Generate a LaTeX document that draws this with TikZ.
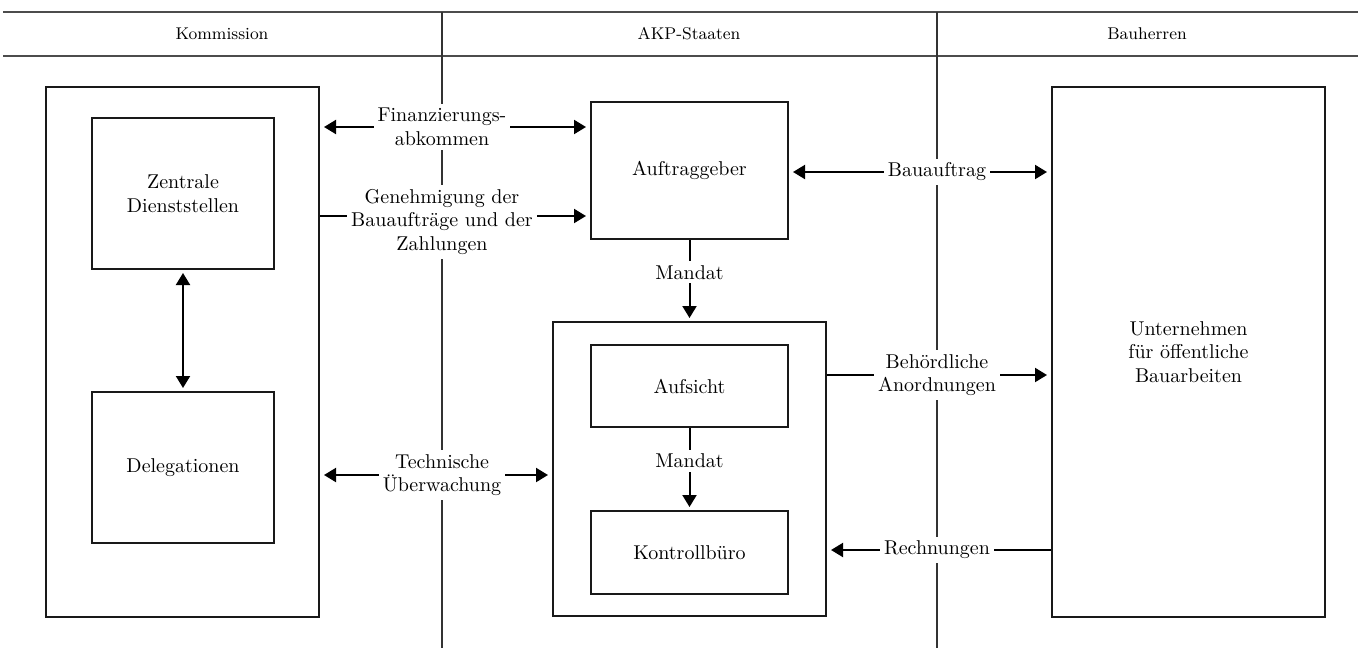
\documentclass[tikz,border=0pt]{standalone}
\usepackage{fontspec}
\usepackage{tikz}
\usetikzlibrary{arrows.meta, positioning}

\begin{document}
\begin{tikzpicture}[
    x=0.5pt, y=-0.5pt,
    every node/.style={font=\fontsize{10}{11.75}\selectfont},
    box/.style={rectangle, draw=black!90, line width=1pt, fill=white, align=center, inner sep=0pt},
    lbl/.style={fill=white, align=center, inner sep=2pt},
    head/.style={font=\fontsize{8.5}{10}\selectfont},
    lane/.style={black!80, line width=0.6pt},
    rule/.style={black!70, line width=1.2pt},
    arrow/.style={-{Triangle[length=6pt, width=7pt]}, line width=1pt, shorten >=2pt},
    dblarrow/.style={{Triangle[length=6pt, width=7pt]}-{Triangle[length=6pt, width=7pt]}, line width=1pt, shorten >=2pt, shorten <=2pt}
]
\useasboundingbox (0,0) rectangle (1358,648);

% header and lanes
\draw [rule] (3,12) -- (1358,12);
\draw [rule] (3,56) -- (1358,56);
\draw [lane] (442,12) -- (442,648);
\draw [lane] (937,12) -- (937,648);
\node (kom) [head] at (222,34) {Kommission};
\node (akp) [head] at (689,34) {AKP-Staaten};
\node (bau) [head] at (1147,34) {Bauherren};

% boxes
\node (komm) [box, minimum width=136.5pt, minimum height=265pt] at (182.5,352) {};
\node (zentrale) [box, minimum width=91pt, minimum height=75.5pt] at (183,193.5) {Zentrale\\Dienststellen};
\node (deleg) [box, minimum width=91pt, minimum height=75.5pt, below=60.5pt of zentrale] {Delegationen};
\node (auftrag) [box, minimum width=98.5pt, minimum height=68.5pt] at (689.5,170.5) {Auftraggeber};
\node (kontrolle) [box, minimum width=136.5pt, minimum height=147pt] at (689.5,469) {};
\node (aufsicht) [box, minimum width=98.5pt, minimum height=41pt] at (689.5,386) {Aufsicht};
\node (buero) [box, minimum width=98.5pt, minimum height=41.5pt] at (689.5,552.5) {Kontrollbüro};
\node (untern) [box, minimum width=136.5pt, minimum height=265pt] at (1188.5,352) {Unternehmen\\für öffentliche\\Bauarbeiten};

% Kommission <-> AKP
\coordinate (finrow) at (442,127);
\draw [dblarrow] (finrow -| komm.east) -- (finrow -| auftrag.west);
\node (fin) [lbl] at (finrow) {Finanzierungs-\\abkommen};

\coordinate (genrow) at (442,216);
\draw [arrow] (genrow -| komm.east) -- (genrow -| auftrag.west);
\node (gen) [lbl, yshift=-3pt] at (genrow) {Genehmigung der\\Bauaufträge und der\\Zahlungen};

\coordinate (techrow) at (442,475);
\draw [dblarrow] (techrow -| komm.east) -- (techrow -| kontrolle.west);
\node (tech) [lbl] at (techrow) {Technische\\Überwachung};

% AKP <-> Bauherren
\coordinate (baurow) at (937,172);
\draw [dblarrow] (baurow -| auftrag.east) -- (baurow -| untern.west);
\node (bauauftrag) [lbl] at (baurow) {Bauauftrag};

\coordinate (behrow) at (937,375);
\draw [arrow] (behrow -| kontrolle.east) -- (behrow -| untern.west);
\node (beh) [lbl] at (behrow) {Behördliche\\Anordnungen};

\coordinate (rechrow) at (937,550);
\draw [arrow] (rechrow -| untern.west) -- (rechrow -| kontrolle.east);
\node (rech) [lbl] at (rechrow) {Rechnungen};

% inside the columns
\draw [dblarrow, shorten >=1.5pt, shorten <=1.5pt] (zentrale) -- (deleg);
\draw [arrow, shorten >=1.5pt] (auftrag) -- node [lbl, pos=0.4] (mandat1) {Mandat} (kontrolle);
\draw [arrow, shorten >=1.5pt] (aufsicht) -- node [lbl, pos=0.4] (mandat2) {Mandat} (buero);
\end{tikzpicture}
\end{document}
